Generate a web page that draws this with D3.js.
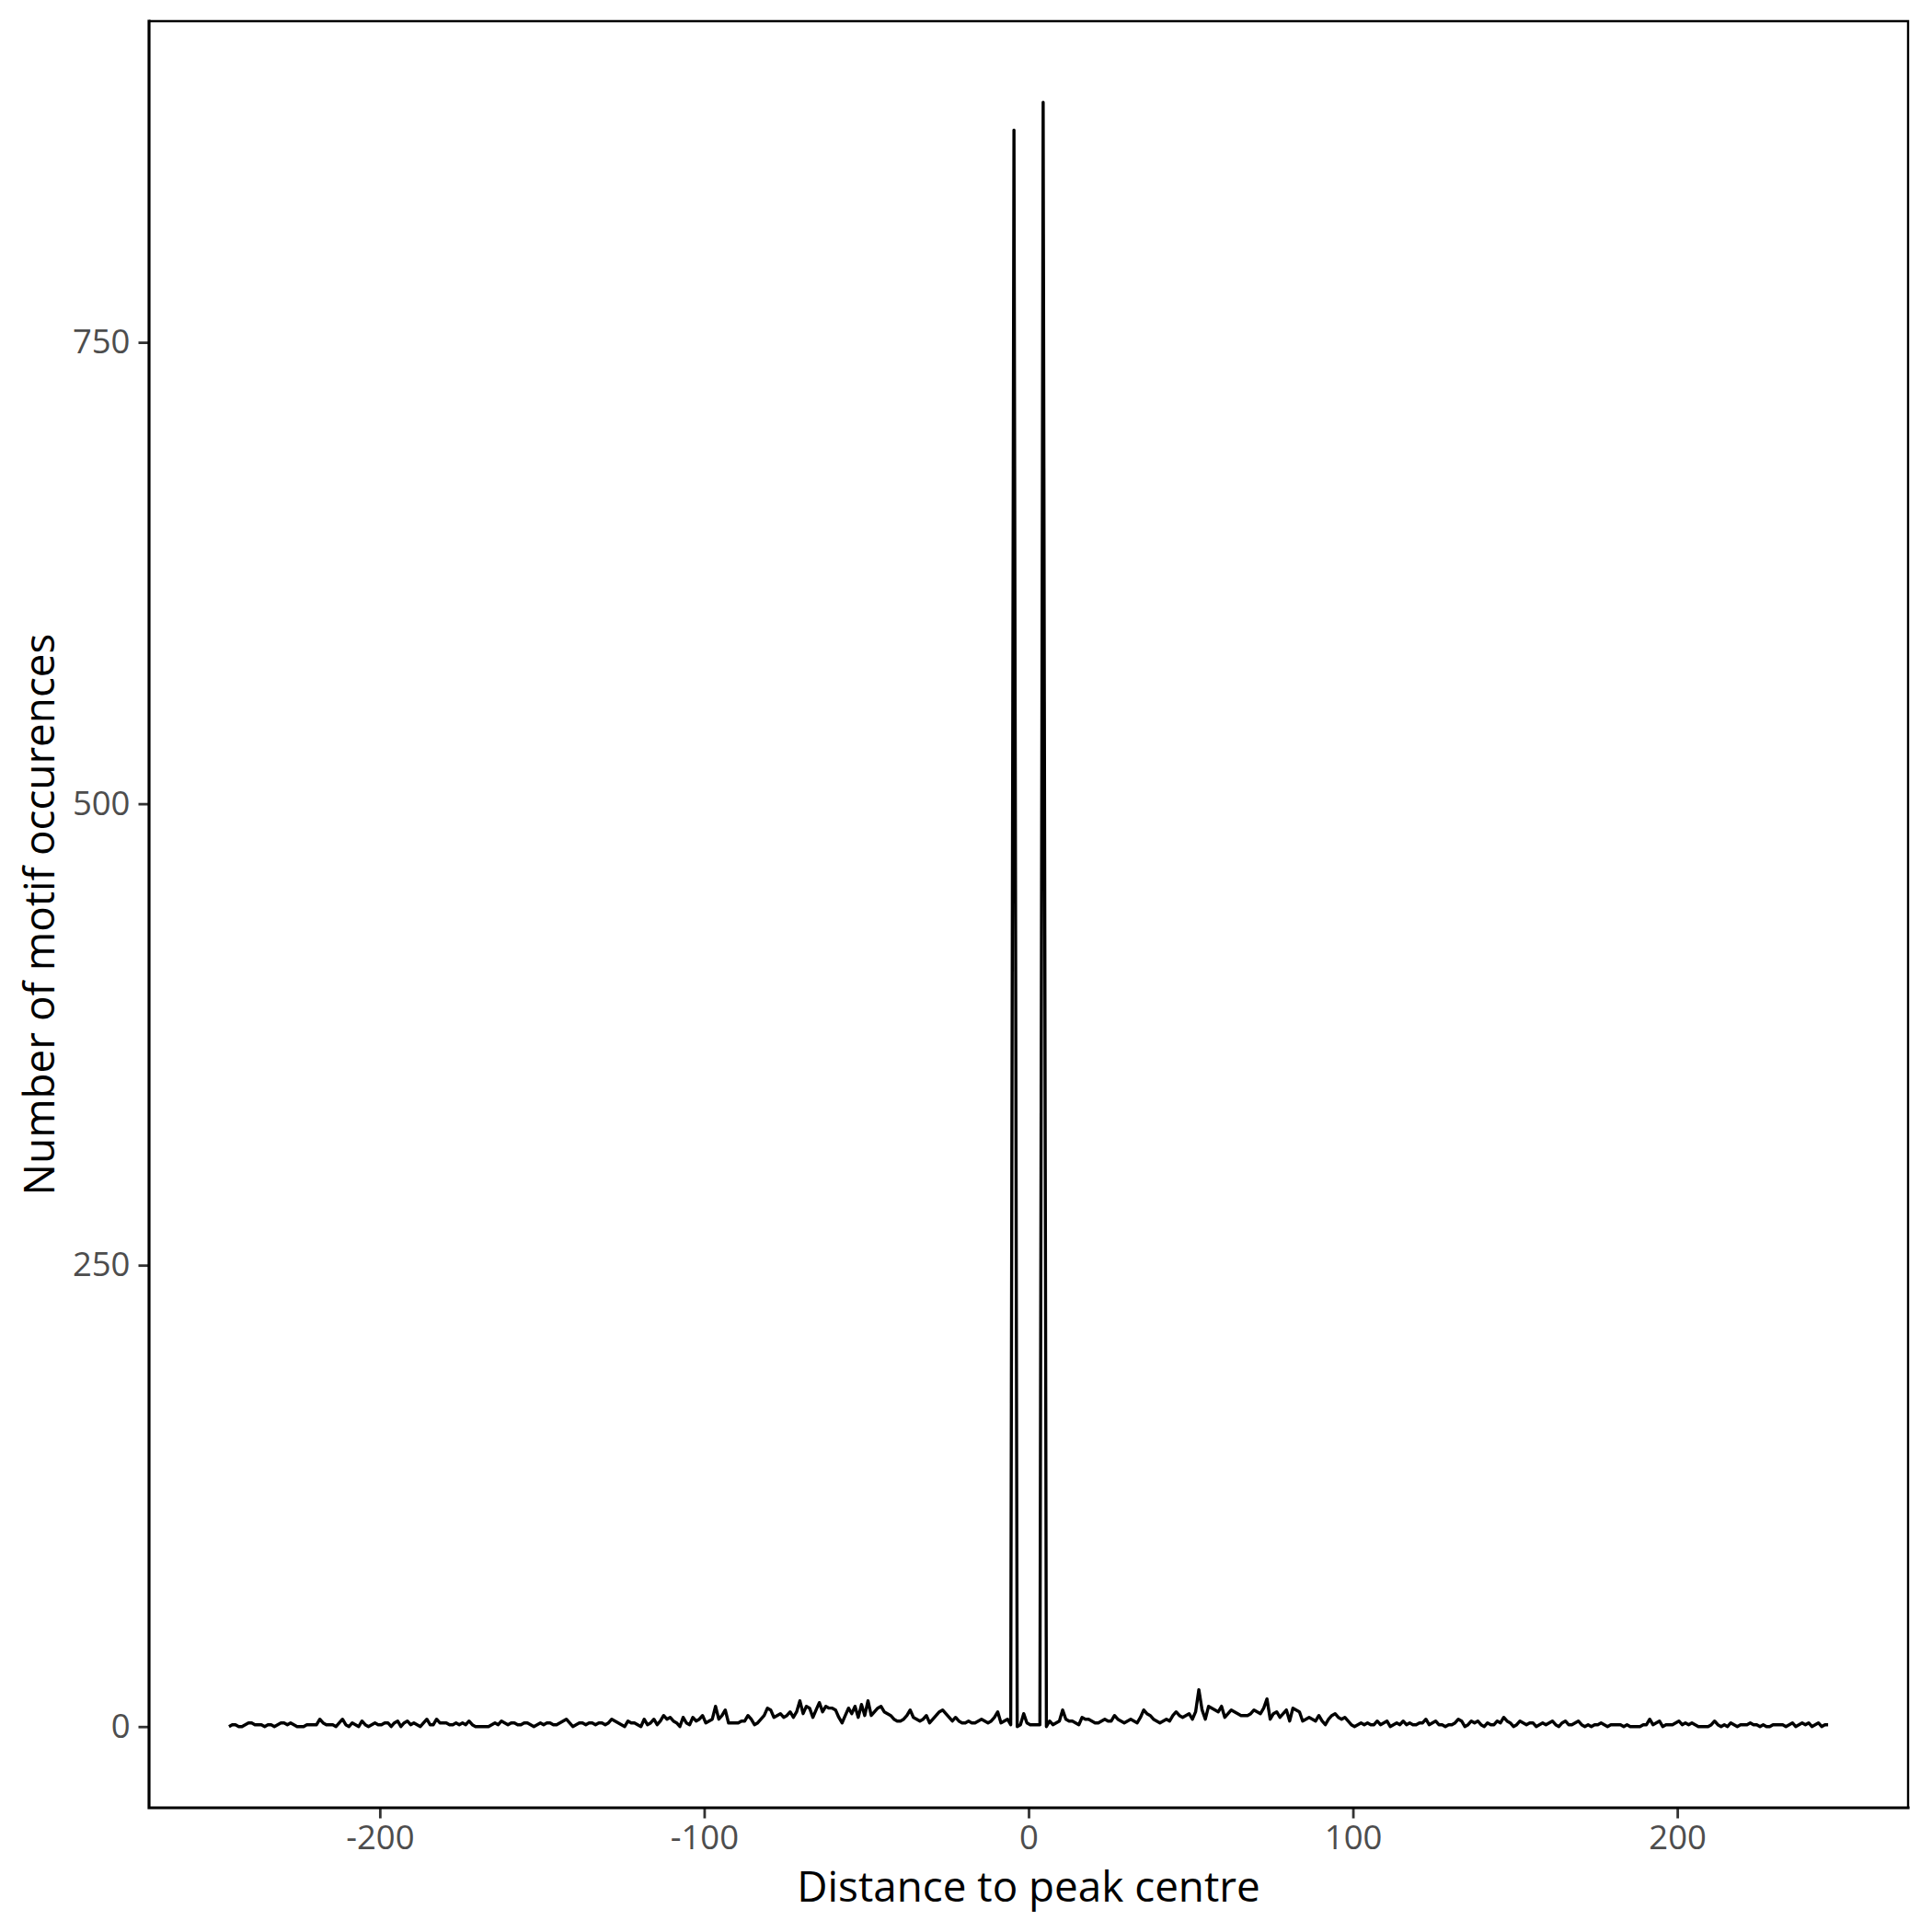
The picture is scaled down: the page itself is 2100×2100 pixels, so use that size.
<!DOCTYPE html>
<html>
<head>
<meta charset="utf-8">
<script src="https://cdn.jsdelivr.net/npm/d3@7"></script>
<style>
  html, body { margin: 0; padding: 0; background: #fff; }
  svg { display: block; }
</style>
</head>
<body>
<div id="chart"></div>
<script>
// bins run from -246.5 to 246.5, one per base
const distanceStart = -246.5;

const motifCounts = [
  0, 1, 1, 0, 0, 1, 2, 2, 1, 1,
  1, 0, 1, 1, 0, 1, 2, 2, 1, 2,
  1, 0, 0, 0, 1, 1, 1, 1, 4, 2,
  1, 1, 1, 0, 2, 4, 1, 0, 2, 1,
  0, 3, 1, 0, 1, 2, 1, 1, 2, 2,
  0, 2, 3, 0, 2, 3, 1, 2, 1, 0,
  2, 4, 1, 1, 4, 2, 2, 2, 1, 1,
  2, 1, 2, 1, 3, 1, 0, 0, 0, 0,
  0, 1, 2, 1, 3, 2, 1, 2, 2, 1,
  1, 2, 2, 1, 0, 1, 2, 1, 2, 2,
  1, 1, 2, 3, 4, 2, 0, 1, 2, 2,
  1, 2, 2, 1, 2, 2, 1, 2, 4, 3,
  2, 1, 0, 3, 2, 2, 1, 0, 4, 1,
  2, 4, 1, 3, 6, 4, 5, 3, 2, 0,
  5, 2, 1, 5, 3, 4, 6, 2, 3, 4,
  11, 4, 6, 9, 2, 2, 2, 2, 3, 3,
  6, 4, 1, 2, 4, 6, 10, 9, 5, 6,
  7, 5, 6, 8, 5, 8, 14, 7, 11, 10,
  5, 9, 13, 8, 11, 10, 10, 9, 5, 2,
  6, 10, 7, 11, 5, 12, 6, 14, 6, 8,
  10, 11, 8, 7, 6, 4, 3, 3, 4, 6,
  9, 5, 4, 3, 4, 6, 2, 4, 6, 8,
  9, 7, 5, 3, 5, 3, 2, 2, 3, 2,
  2, 3, 4, 3, 2, 3, 5, 8, 2, 3,
  4, 1, 865, 0, 1, 7, 2, 1, 1, 1,
  1, 880, 0, 3, 1, 2, 3, 9, 4, 3,
  3, 2, 1, 5, 4, 4, 3, 2, 2, 3,
  4, 3, 3, 6, 4, 3, 2, 3, 4, 3,
  2, 5, 9, 7, 6, 4, 3, 2, 3, 4,
  3, 6, 8, 6, 5, 6, 7, 4, 8, 20,
  9, 4, 11, 10, 9, 8, 11, 5, 7, 9,
  8, 7, 6, 6, 6, 7, 9, 8, 7, 10,
  15, 4, 7, 8, 5, 7, 9, 3, 10, 9,
  8, 3, 4, 5, 4, 3, 6, 3, 1, 4,
  6, 7, 5, 4, 5, 3, 1, 0, 1, 2,
  1, 2, 1, 1, 3, 1, 2, 3, 0, 1,
  2, 1, 3, 1, 2, 1, 1, 2, 2, 4,
  1, 2, 3, 1, 1, 0, 1, 1, 2, 4,
  3, 0, 1, 3, 2, 3, 1, 0, 2, 1,
  1, 3, 2, 5, 3, 2, 0, 1, 3, 2,
  1, 2, 2, 0, 1, 2, 1, 2, 3, 1,
  0, 2, 3, 1, 1, 2, 3, 1, 0, 1,
  0, 1, 1, 2, 1, 0, 1, 1, 1, 1,
  0, 1, 0, 0, 0, 0, 1, 1, 4, 1,
  2, 3, 0, 1, 1, 1, 2, 3, 1, 2,
  1, 2, 1, 0, 0, 0, 0, 1, 3, 1,
  0, 1, 0, 2, 1, 0, 1, 1, 1, 2,
  1, 1, 0, 1, 0, 0, 1, 1, 1, 1,
  0, 1, 2, 0, 1, 2, 1, 2, 0, 1,
  2, 0, 1, 1
];

const xTicks = [-200, -100, 0, 100, 200];
const yTicks = [0, 250, 500, 750];

const xTitle = "Distance to peak centre";
const yTitle = "Number of motif occurences";

const drawChart = () => {
  const width = 2100;
  const height = 2100;
  const panel = { left: 162, right: 2074, top: 23, bottom: 1965 };
  const fontFamily = "'Open Sans', 'Noto Sans', sans-serif";

  const points = motifCounts.map((count, i) => ({ distance: distanceStart + i, count }));

  // ggplot-style 5% expansion on both axes
  const xExtent = d3.extent(points, d => d.distance);
  const xPad = (xExtent[1] - xExtent[0]) * 0.05;
  const yExtent = [0, d3.max(points, d => d.count)];
  const yPad = (yExtent[1] - yExtent[0]) * 0.05;

  const x = d3.scaleLinear()
    .domain([xExtent[0] - xPad, xExtent[1] + xPad])
    .range([panel.left, panel.right]);

  const y = d3.scaleLinear()
    .domain([yExtent[0] - yPad, yExtent[1] + yPad])
    .range([panel.bottom, panel.top]);

  const svg = d3.select("#chart")
    .append("svg")
    .attr("width", width)
    .attr("height", height)
    .attr("viewBox", `0 0 ${width} ${height}`);

  svg.append("rect")
    .attr("width", width)
    .attr("height", height)
    .attr("fill", "#fff");

  // data line
  const line = d3.line()
    .x(d => x(d.distance))
    .y(d => y(d.count));

  svg.append("path")
    .datum(points)
    .attr("fill", "none")
    .attr("stroke", "#000")
    .attr("stroke-width", 3.4)
    .attr("stroke-linejoin", "round")
    .attr("stroke-linecap", "butt")
    .attr("d", line);

  // panel border (top / right)
  svg.append("path")
    .attr("d", `M${panel.left},${panel.top}H${panel.right}V${panel.bottom}`)
    .attr("fill", "none")
    .attr("stroke", "#000")
    .attr("stroke-width", 2.4);

  // axes
  const xAxis = svg.append("g")
    .attr("transform", `translate(0,${panel.bottom})`)
    .call(d3.axisBottom(x).tickValues(xTicks).tickSize(11.5).tickPadding(8).tickFormat(d3.format("d")));

  const yAxis = svg.append("g")
    .attr("transform", `translate(${panel.left},0)`)
    .call(d3.axisLeft(y).tickValues(yTicks).tickSize(11.5).tickPadding(9).tickFormat(d3.format("d")));

  [xAxis, yAxis].forEach(g => {
    g.select(".domain").remove();
    g.selectAll(".tick line")
      .attr("stroke", "#333")
      .attr("stroke-width", 2.8);
    g.selectAll(".tick text")
      .attr("fill", "#4d4d4d")
      .style("font-family", fontFamily)
      .style("font-size", "36.5px");
  });

  // plain hyphen minus, as in the reference
  xAxis.selectAll(".tick text").text(d => String(d));

  // axis lines drawn over the ticks' base
  svg.append("path")
    .attr("d", `M${panel.left},${panel.top}V${panel.bottom}H${panel.right}`)
    .attr("fill", "none")
    .attr("stroke", "#000")
    .attr("stroke-width", 3.2)
    .attr("stroke-linecap", "square");

  // titles
  svg.append("text")
    .attr("x", (panel.left + panel.right) / 2)
    .attr("y", 2067)
    .attr("text-anchor", "middle")
    .style("font-family", fontFamily)
    .style("font-size", "45.8px")
    .attr("fill", "#000")
    .text(xTitle);

  svg.append("text")
    .attr("transform", `translate(59,${(panel.top + panel.bottom) / 2}) rotate(-90)`)
    .attr("text-anchor", "middle")
    .style("font-family", fontFamily)
    .style("font-size", "45.8px")
    .attr("fill", "#000")
    .text(yTitle);
};

drawChart();
</script>
</body>
</html>
